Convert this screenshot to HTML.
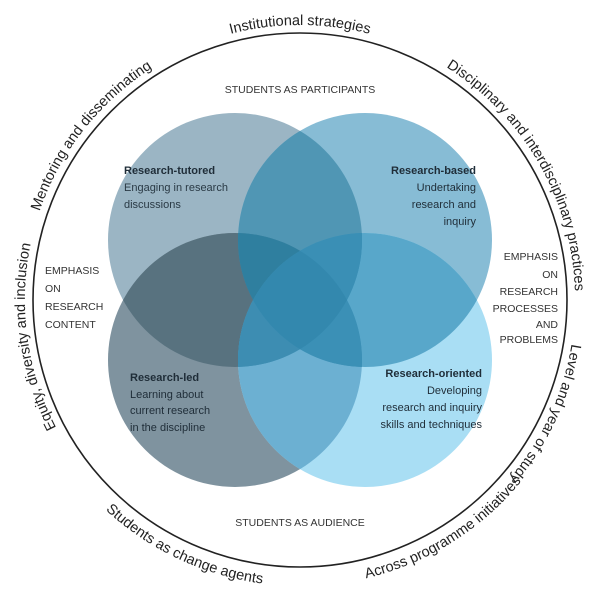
<!DOCTYPE html>
<html><head><meta charset="utf-8"><style>
html,body{margin:0;padding:0;background:#fff;}
svg{display:block;font-family:"Liberation Sans",sans-serif;}
</style></head><body>
<svg width="602" height="606" viewBox="0 0 602 606">
<defs>
<clipPath id="cTL"><circle cx="235" cy="240" r="127"/></clipPath>
<clipPath id="cTR"><circle cx="365" cy="240" r="127"/></clipPath>
<clipPath id="cBL"><circle cx="235" cy="360" r="127"/></clipPath>
<clipPath id="cBR"><circle cx="365" cy="360" r="127"/></clipPath>
<path id="cw" d="M300,575 A275,275 0 1,1 300,25 A275,275 0 1,1 300,575"/>
<path id="ccw" d="M300,14 A286,286 0 1,0 300,586 A286,286 0 1,0 300,14"/>
</defs>
<circle cx="300" cy="300" r="267" fill="none" stroke="#222" stroke-width="1.6"/>
<circle cx="235" cy="240" r="127" fill="#9bb5c4"/>
<circle cx="365" cy="240" r="127" fill="#87bcd5"/>
<circle cx="235" cy="360" r="127" fill="#7f939f"/>
<circle cx="365" cy="360" r="127" fill="#a9def4"/>
<g clip-path="url(#cTL)"><circle cx="365" cy="240" r="127" fill="#5096b4"/></g>
<g clip-path="url(#cTL)"><circle cx="235" cy="360" r="127" fill="#58727f"/></g>
<g clip-path="url(#cTR)"><circle cx="365" cy="360" r="127" fill="#58a7ca"/></g>
<g clip-path="url(#cBL)"><circle cx="365" cy="360" r="127" fill="#6cb0d2"/></g>
<g clip-path="url(#cTL)"><circle cx="365" cy="360" r="127" fill="#3a8fb5"/></g>
<g clip-path="url(#cTR)"><circle cx="235" cy="360" r="127" fill="#3a8fb5"/></g>
<g clip-path="url(#cTL)"><g clip-path="url(#cTR)"><circle cx="235" cy="360" r="127" fill="#2f7f9f"/></g></g>
<g clip-path="url(#cTL)"><g clip-path="url(#cTR)"><circle cx="365" cy="360" r="127" fill="#3a8fb5"/></g></g>
<g clip-path="url(#cBL)"><g clip-path="url(#cBR)"><circle cx="235" cy="240" r="127" fill="#3d8db2"/></g></g>
<g clip-path="url(#cBL)"><g clip-path="url(#cBR)"><circle cx="365" cy="240" r="127" fill="#3b90b6"/></g></g>
<g clip-path="url(#cTL)"><g clip-path="url(#cTR)"><g clip-path="url(#cBL)"><circle cx="365" cy="360" r="127" fill="#3388ae"/></g></g></g>

<g font-size="14.5" fill="#222">
<text text-anchor="middle"><textPath href="#cw" startOffset="50%">Institutional strategies</textPath></text>
<text text-anchor="middle"><textPath href="#cw" startOffset="66.7%">Disciplinary and interdisciplinary practices</textPath></text>
<text text-anchor="middle"><textPath href="#cw" startOffset="81.9%">Level and year of study</textPath></text>
<text text-anchor="middle"><textPath href="#cw" startOffset="22.8%">Equity, diversity and inclusion</textPath></text>
<text text-anchor="middle"><textPath href="#cw" startOffset="35.6%">Mentoring and disseminating</textPath></text>
<text text-anchor="middle"><textPath href="#ccw" startOffset="43%">Students as change agents</textPath></text>
<text text-anchor="middle"><textPath href="#ccw" startOffset="58.9%">Across programme initiatives</textPath></text>
</g>

<g font-size="10.5" fill="#333">
<text x="300" y="93" text-anchor="middle">STUDENTS AS PARTICIPANTS</text>
<text x="300" y="526" text-anchor="middle">STUDENTS AS AUDIENCE</text>
<text x="45" y="274">EMPHASIS</text>
<text x="45" y="292">ON</text>
<text x="45" y="310">RESEARCH</text>
<text x="45" y="328">CONTENT</text>
<g text-anchor="end">
<text x="558" y="260">EMPHASIS</text>
<text x="558" y="278">ON</text>
<text x="558" y="295">RESEARCH</text>
<text x="558" y="312">PROCESSES</text>
<text x="558" y="328">AND</text>
<text x="558" y="343">PROBLEMS</text>
</g>
</g>

<g font-size="11" fill="#1f2d38">
<text x="124" y="174" font-weight="bold">Research-tutored</text>
<text x="124" y="191" fill="#2a3a45">Engaging in research</text>
<text x="124" y="208" fill="#2a3a45">discussions</text>
<g text-anchor="end">
<text x="476" y="174" font-weight="bold">Research-based</text>
<text x="476" y="191">Undertaking</text>
<text x="476" y="208">research and</text>
<text x="476" y="225">inquiry</text>
</g>
<text x="130" y="381" font-weight="bold">Research-led</text>
<text x="130" y="398">Learning about</text>
<text x="130" y="414">current research</text>
<text x="130" y="431">in the discipline</text>
<g text-anchor="end">
<text x="482" y="377" font-weight="bold">Research-oriented</text>
<text x="482" y="394">Developing</text>
<text x="482" y="411">research and inquiry</text>
<text x="482" y="428">skills and techniques</text>
</g>
</g>
</svg>
</body></html>
